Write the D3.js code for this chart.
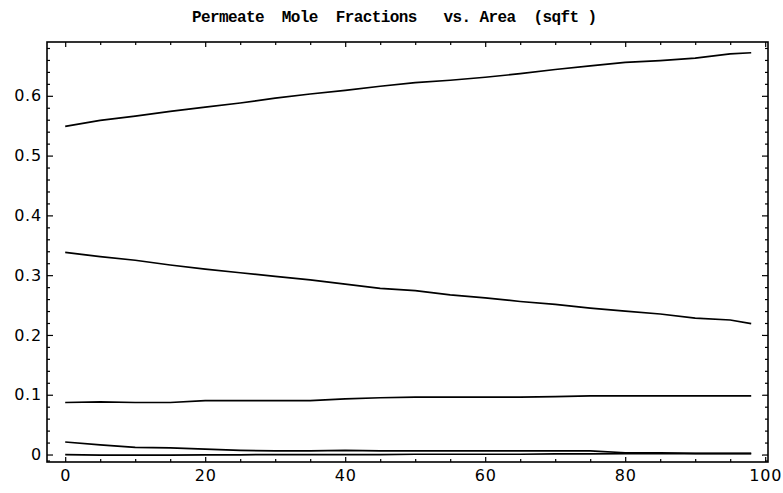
<!DOCTYPE html>
<html>
<head>
<meta charset="utf-8">
<script src="https://cdn.jsdelivr.net/npm/d3@7"></script>
<style>
  html, body { margin: 0; padding: 0; background: #fff; }
  svg { display: block; }
</style>
</head>
<body>
<svg id="chart" width="783" height="493"></svg>
<script>
// Membrane area (sqft) at which the permeate composition was sampled
const area = [0, 5, 10, 15, 20, 25, 30, 35, 40, 45, 50, 55, 60, 65, 70, 75, 80, 85, 90, 95, 98];

// Permeate mole fraction of each component
const comp1 = [0.549, 0.559, 0.566, 0.574, 0.581, 0.588, 0.596, 0.603, 0.609, 0.616, 0.622, 0.626, 0.631, 0.637, 0.644, 0.650, 0.656, 0.659, 0.663, 0.670, 0.672];
const comp2 = [0.338, 0.331, 0.325, 0.317, 0.310, 0.304, 0.298, 0.292, 0.285, 0.278, 0.274, 0.267, 0.262, 0.256, 0.251, 0.245, 0.240, 0.235, 0.228, 0.225, 0.219];
const comp3 = [0.087, 0.088, 0.087, 0.087, 0.090, 0.090, 0.090, 0.090, 0.093, 0.095, 0.096, 0.096, 0.096, 0.096, 0.097, 0.098, 0.098, 0.098, 0.098, 0.098, 0.098];
const comp4 = [0.021, 0.016, 0.012, 0.011, 0.009, 0.007, 0.006, 0.006, 0.007, 0.006, 0.006, 0.006, 0.006, 0.006, 0.006, 0.006, 0.003, 0.003, 0.002, 0.002, 0.002];
const comp5 = [0.000, -0.001, -0.001, -0.001, -0.0005, -0.0005, 0.000, 0.000, 0.000, 0.000, 0.0005, 0.0005, 0.0005, 0.0005, 0.001, 0.001, 0.0015, 0.0015, 0.0015, 0.0015, 0.0015];
const seriesList = [comp1, comp2, comp3, comp4, comp5];

// Tick values
const xMajor = [0, 20, 40, 60, 80, 100];
const xMinor = [5, 10, 15, 25, 30, 35, 45, 50, 55, 65, 70, 75, 85, 90, 95];
const yMajor = [0, 0.1, 0.2, 0.3, 0.4, 0.5, 0.6];
const yMinor = [-0.01, 0.02, 0.04, 0.06, 0.08, 0.12, 0.14, 0.16, 0.18, 0.22, 0.24, 0.26, 0.28,
                0.32, 0.34, 0.36, 0.38, 0.42, 0.44, 0.46, 0.48, 0.52, 0.54, 0.56, 0.58,
                0.62, 0.64, 0.66, 0.68];

const titleText = "Permeate  Mole  Fractions   vs. Area  (sqft )";

const svg = d3.select("#chart");
svg.append("rect").attr("width", 783).attr("height", 493).attr("fill", "#fff");

// Plot frame
const frame = { left: 47, right: 768, top: 42, bottom: 462 };
const x = d3.scaleLinear().domain([-2.6, 100.4]).range([frame.left, frame.right]);
const y = d3.scaleLinear().domain([-0.0125, 0.69]).range([frame.bottom, frame.top]);

const fmtY = d => d === 0 ? "0" : d3.format(".1f")(d);

function styleAxis(g) {
  g.select(".domain").remove();
  g.selectAll("line").attr("stroke", "#000").attr("stroke-width", 1.2);
  g.selectAll("text")
    .attr("fill", "#000")
    .style("font-family", "'DejaVu Sans', sans-serif")
    .style("font-size", "16px")
    .style("letter-spacing", "0.8px");
}

// Bottom axis: labelled majors + minors, ticks pointing inward
svg.append("g").attr("transform", `translate(0,${frame.bottom})`)
  .call(d3.axisBottom(x).tickValues(xMajor).tickSize(-5).tickPadding(8).tickFormat(d3.format("d")))
  .call(styleAxis);
svg.append("g").attr("transform", `translate(0,${frame.bottom})`)
  .call(d3.axisBottom(x).tickValues(xMinor).tickSize(-3).tickFormat(""))
  .call(styleAxis);

// Top axis: ticks only
svg.append("g").attr("transform", `translate(0,${frame.top})`)
  .call(d3.axisTop(x).tickValues(xMajor).tickSize(-5).tickFormat(""))
  .call(styleAxis);
svg.append("g").attr("transform", `translate(0,${frame.top})`)
  .call(d3.axisTop(x).tickValues(xMinor).tickSize(-3).tickFormat(""))
  .call(styleAxis);

// Left axis: labelled majors + minors
svg.append("g").attr("transform", `translate(${frame.left},0)`)
  .call(d3.axisLeft(y).tickValues(yMajor).tickSize(-6).tickPadding(5).tickFormat(fmtY))
  .call(styleAxis);
svg.append("g").attr("transform", `translate(${frame.left},0)`)
  .call(d3.axisLeft(y).tickValues(yMinor).tickSize(-3).tickFormat(""))
  .call(styleAxis);

// Right axis: ticks only
svg.append("g").attr("transform", `translate(${frame.right},0)`)
  .call(d3.axisRight(y).tickValues(yMajor).tickSize(-6).tickFormat(""))
  .call(styleAxis);
svg.append("g").attr("transform", `translate(${frame.right},0)`)
  .call(d3.axisRight(y).tickValues(yMinor).tickSize(-3).tickFormat(""))
  .call(styleAxis);

// Frame border
svg.append("rect")
  .attr("x", frame.left).attr("y", frame.top)
  .attr("width", frame.right - frame.left).attr("height", frame.bottom - frame.top)
  .attr("fill", "none").attr("stroke", "#000").attr("stroke-width", 1.6);

// One curve per component
const line = d3.line().x((d, i) => x(area[i])).y(d => y(d));
svg.append("g").selectAll("path")
  .data(seriesList)
  .join("path")
  .attr("d", line)
  .attr("fill", "none")
  .attr("stroke", "#000")
  .attr("stroke-width", 1.7)
  .attr("stroke-linejoin", "round");

// Title
svg.append("text")
  .attr("x", 192).attr("y", 22)
  .attr("xml:space", "preserve")
  .style("white-space", "pre")
  .style("font-family", "'Liberation Mono', 'Courier New', monospace")
  .style("font-weight", "bold")
  .style("font-size", "16px")
  .attr("textLength", 405)
  .attr("lengthAdjust", "spacing")
  .attr("fill", "#000")
  .text(titleText);
</script>
</body>
</html>
